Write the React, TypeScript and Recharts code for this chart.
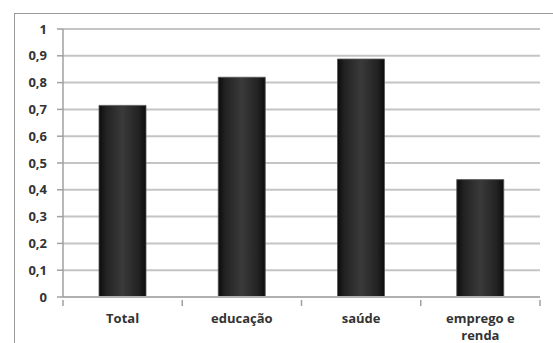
import { BarChart, Bar, XAxis, YAxis, CartesianGrid } from 'recharts';

const categories = ['Total', 'educação', 'saúde', 'emprego e renda'];
const values = [0.715, 0.82, 0.888, 0.438];
const yTicks = [0, 0.1, 0.2, 0.3, 0.4, 0.5, 0.6, 0.7, 0.8, 0.9, 1];

const data = categories.map((name, i) => ({ name, value: values[i] }));

const WIDTH = 553;
const HEIGHT = 343;
const LEFT = 63;
const RIGHT = 13;
const band = (WIDTH - LEFT - RIGHT) / categories.length;
const font = '"Open Sans", "DejaVu Sans", sans-serif';

function CategoryTick({ x, y, payload, index }: any) {
  const words: string[] = payload.value === 'emprego e renda' ? ['emprego e', 'renda'] : [payload.value];
  return (
    <g>
      <line x1={x - band / 2} y1={y - 5} x2={x - band / 2} y2={y + 1} stroke="#a0a0a0" strokeWidth={1.5} />
      {index === categories.length - 1 && (
        <line x1={x + band / 2} y1={y - 5} x2={x + band / 2} y2={y + 1} stroke="#a0a0a0" strokeWidth={1.5} />
      )}
      {words.map((w, i) => (
        <text
          key={w}
          x={x}
          y={y + 18 + i * 17}
          textAnchor="middle"
          fill="#333"
          fontSize={13}
          fontWeight={700}
          fontFamily={font}
        >
          {w}
        </text>
      ))}
    </g>
  );
}

export default function App() {
  return (
    <div style={{ position: 'fixed', left: 0, top: 0, width: WIDTH, height: HEIGHT, overflow: 'hidden', background: '#fff' }}>
      <div
        style={{
          position: 'absolute',
          left: 14,
          top: 13,
          width: 600,
          height: 400,
          borderLeft: '1.5px solid #9a9a9a',
          borderTop: '1.5px solid #9a9a9a',
        }}
      />
      <BarChart
        width={WIDTH}
        height={HEIGHT}
        data={data}
        margin={{ top: 29, right: RIGHT, bottom: 0, left: 0 }}
        style={{ position: 'absolute', left: 0, top: 0 }}
      >
        <defs>
          <linearGradient id="barFill" x1="0" y1="0" x2="1" y2="0">
            <stop offset="0%" stopColor="#0c0c0c" />
            <stop offset="15%" stopColor="#222" />
            <stop offset="50%" stopColor="#3a3a3a" />
            <stop offset="85%" stopColor="#222" />
            <stop offset="100%" stopColor="#0c0c0c" />
          </linearGradient>
        </defs>
        <CartesianGrid vertical={false} stroke="#c4c4c4" strokeWidth={2} />
        <XAxis
          dataKey="name"
          interval={0}
          height={46}
          tickLine={false}
          axisLine={{ stroke: '#b0b0b0', strokeWidth: 2 }}
          tick={<CategoryTick />}
        />
        <YAxis
          width={LEFT}
          domain={[0, 1]}
          ticks={yTicks}
          interval={0}
          tickSize={6}
          tickMargin={10}
          tickLine={{ stroke: '#a0a0a0', strokeWidth: 1.5 }}
          axisLine={{ stroke: '#a0a0a0', strokeWidth: 1.5 }}
          tickFormatter={(v) => String(v).replace('.', ',')}
          tick={{ fill: '#333', fontSize: 13, fontWeight: 700, fontFamily: font }}
        />
        <Bar
          dataKey="value"
          barSize={47}
          fill="url(#barFill)"
          stroke="#555"
          strokeWidth={0.8}
          isAnimationActive={false}
        />
      </BarChart>
    </div>
  );
}
